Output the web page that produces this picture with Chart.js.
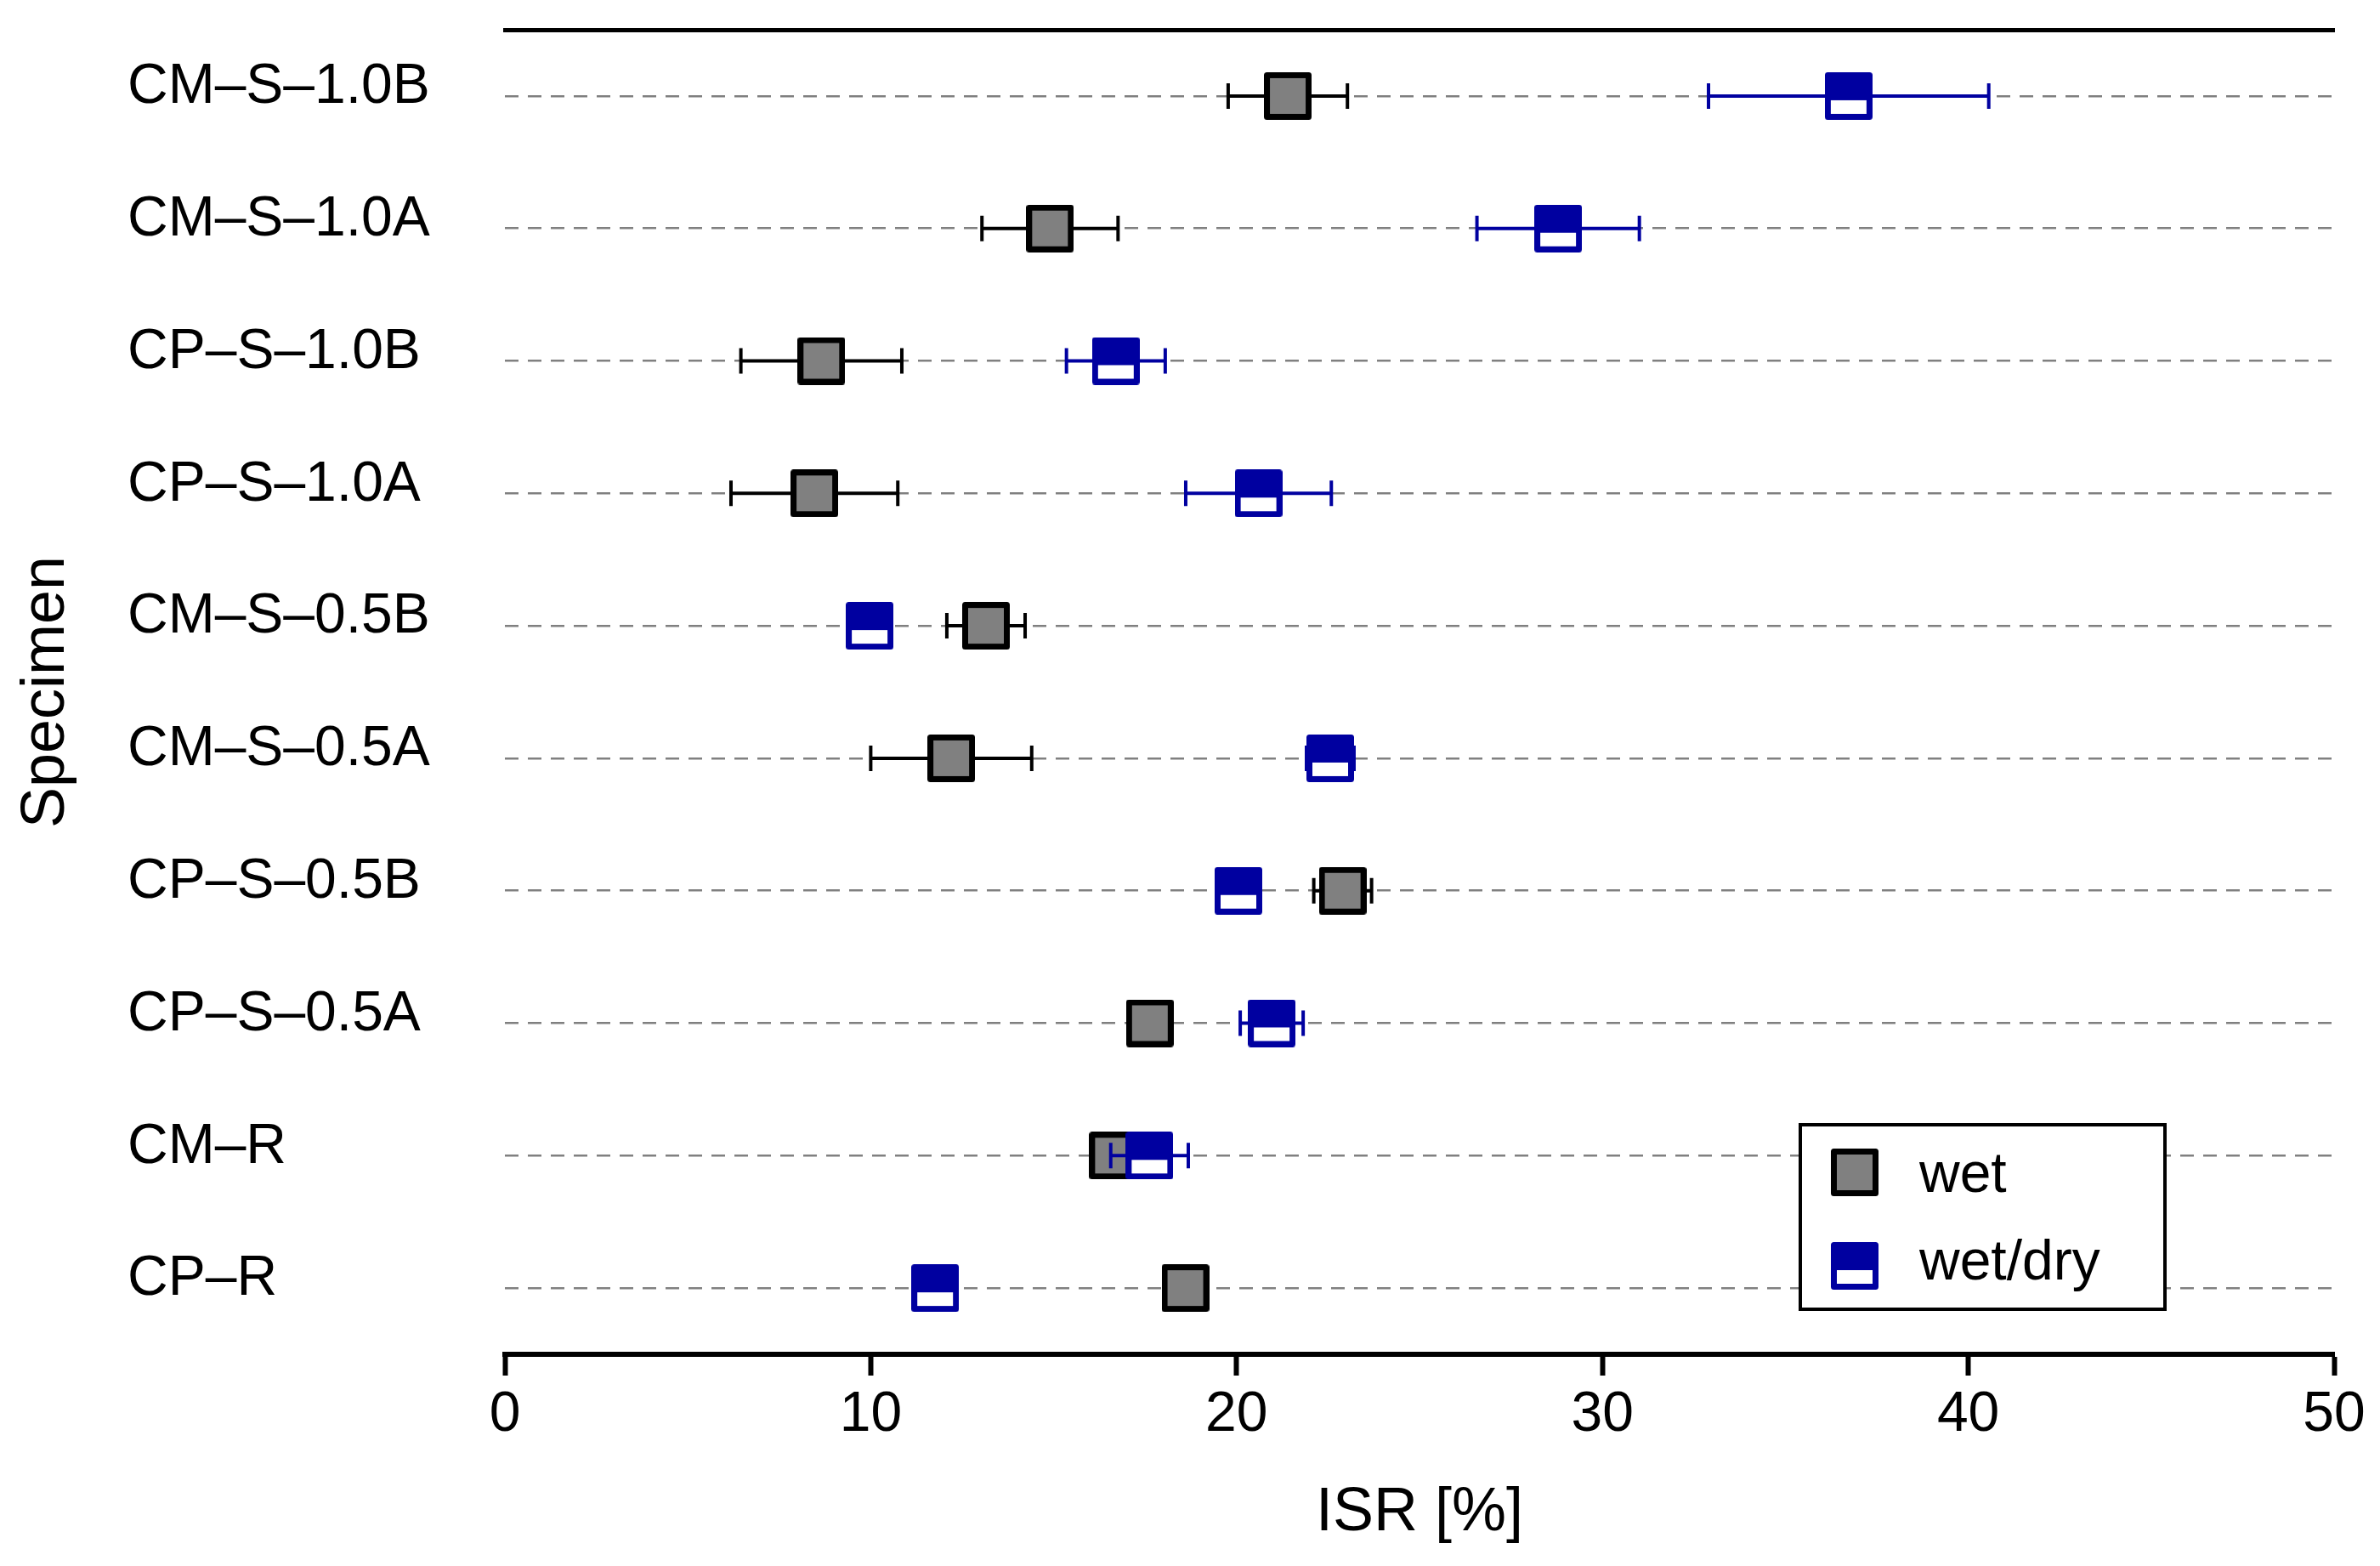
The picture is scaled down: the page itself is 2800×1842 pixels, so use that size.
<!DOCTYPE html>
<html>
<head>
<meta charset="utf-8">
<script src="https://cdn.jsdelivr.net/npm/chart.js@4.4.1/dist/chart.umd.min.js"></script>
<style>
  html, body { margin: 0; padding: 0; background: #fff; }
  #wrap { width: 2800px; height: 1842px; }
</style>
</head>
<body>
<div id="wrap"><canvas id="isrChart"></canvas></div>
<script>
// Specimens, top to bottom
const categories = ["CM–S–1.0B", "CM–S–1.0A", "CP–S–1.0B", "CP–S–1.0A", "CM–S–0.5B",
  "CM–S–0.5A", "CP–S–0.5B", "CP–S–0.5A", "CM–R", "CP–R"];

// ISR [%] mean and +/- error
const wetValues = [21.4, 14.9, 8.65, 8.46, 13.15, 12.2, 22.9, 17.63, 16.62, 18.6];
const wetErrors = [1.63, 1.86, 2.2, 2.28, 1.07, 2.2, 0.79, 0, 0, 0];
const wetDryValues = [36.73, 28.79, 16.7, 20.6, 9.97, 22.56, 20.05, 20.96, 17.62, 11.76];
const wetDryErrors = [3.83, 2.22, 1.35, 1.99, 0, 0.65, 0, 0.86, 1.06, 0];

const xTicks = [0, 10, 20, 30, 40, 50];

const FONT = "'Liberation Sans', Arial, Helvetica, sans-serif";
const GRAY = "#808080";
const BLUE = "#0000a0";

// marker images
const makeMarker = (half) => {
  const c = document.createElement("canvas");
  c.width = 56;
  c.height = 56;
  const g = c.getContext("2d");
  g.lineJoin = "round";
  if (half) {
    g.fillStyle = "#fff";
    g.fillRect(3, 3, 50, 50);
    g.fillStyle = BLUE;
    g.fillRect(1, 1, 54, 32);
    g.strokeStyle = BLUE;
    g.lineWidth = 7;
  } else {
    g.fillStyle = GRAY;
    g.fillRect(3, 3, 50, 50);
    g.strokeStyle = "#000";
    g.lineWidth = 7;
  }
  g.strokeRect(3.5, 3.5, 49, 49);
  return c;
};
const wetMarker = makeMarker(false);
const wetDryMarker = makeMarker(true);

// horizontal error bars, drawn under each dataset's markers
const errorBars = {
  id: "errorBars",
  beforeDatasetDraw(chart, args) {
    const ds = chart.data.datasets[args.index];
    const xs = chart.scales.x;
    const ctx = chart.ctx;
    ctx.save();
    ctx.strokeStyle = ds.errorColor;
    ctx.lineWidth = 4;
    args.meta.data.forEach((pt, i) => {
      const err = ds.errors[i];
      if (!err) return;
      const v = ds.data[i].x;
      const x1 = xs.getPixelForValue(v - err);
      const x2 = xs.getPixelForValue(v + err);
      ctx.beginPath();
      ctx.moveTo(x1, pt.y);
      ctx.lineTo(x2, pt.y);
      ctx.moveTo(x1, pt.y - 15);
      ctx.lineTo(x1, pt.y + 15);
      ctx.moveTo(x2, pt.y - 15);
      ctx.lineTo(x2, pt.y + 15);
      ctx.stroke();
    });
    ctx.restore();
  },
};

// boxed legend in the lower right of the plot
const boxLegend = {
  id: "boxLegend",
  afterDraw(chart) {
    const { ctx, chartArea } = chart;
    const w = 429, h = 217;
    const left = chartArea.right - 199 - w;
    const top = chartArea.bottom - 53 - h;
    ctx.save();
    ctx.fillStyle = "#fff";
    ctx.fillRect(left, top, w, h);
    ctx.strokeStyle = "#000";
    ctx.lineWidth = 4;
    ctx.strokeRect(left, top, w, h);
    ctx.font = "66px " + FONT;
    ctx.fillStyle = "#000";
    ctx.textBaseline = "alphabetic";
    const rows = [[56, 79], [166, 182]];
    chart.data.datasets.forEach((ds, i) => {
      const img = ds.pointStyle;
      ctx.drawImage(img, left + 64 - img.width / 2, top + rows[i][0] - img.height / 2);
      ctx.fillText(ds.label, left + 140, top + rows[i][1]);
    });
    ctx.restore();
  },
};

new Chart(document.getElementById("isrChart"), {
  type: "scatter",
  data: {
    datasets: [
      {
        label: "wet",
        data: wetValues.map((v, i) => ({ x: v, y: i })),
        errors: wetErrors,
        errorColor: "#000",
        pointStyle: wetMarker,
        pointRadius: 28,
        order: 1,
        xAxisID: "x",
        yAxisID: "y",
      },
      {
        label: "wet/dry",
        data: wetDryValues.map((v, i) => ({ x: v, y: i })),
        errors: wetDryErrors,
        errorColor: BLUE,
        pointStyle: wetDryMarker,
        pointRadius: 28,
        order: 0,
        xAxisID: "x",
        yAxisID: "y",
      },
    ],
  },
  options: {
    responsive: true,
    maintainAspectRatio: false,
    animation: false,
    layout: { padding: { left: 0, right: 54, top: 35, bottom: 0 } },
    plugins: {
      legend: { display: false },
      tooltip: { enabled: false },
    },
    scales: {
      x: {
        type: "linear",
        position: "bottom",
        min: 0,
        max: 50,
        afterBuildTicks: (scale) => {
          scale.ticks = xTicks.map((v) => ({ value: v }));
        },
        afterFit: (scale) => {
          scale.height = 249;
        },
        ticks: {
          color: "#000",
          padding: 7,
          font: { family: FONT, size: 66, lineHeight: 1.2 },
        },
        grid: {
          drawOnChartArea: false,
          drawTicks: true,
          tickLength: 25,
          tickWidth: 6,
          tickColor: "#000",
          color: "#000",
        },
        border: { display: true, color: "#000", width: 6 },
        title: {
          display: true,
          text: "ISR [%]",
          color: "#000",
          font: { family: FONT, size: 72, lineHeight: 1.2 },
          padding: { top: 0, bottom: 19 },
        },
      },
      x2: {
        type: "linear",
        axis: "x",
        position: "top",
        min: 0,
        max: 50,
        afterFit: (scale) => {
          scale.height = 0;
        },
        ticks: { display: false },
        grid: { display: false, drawTicks: false },
        border: { display: true, color: "#000", width: 5 },
      },
      y: {
        type: "linear",
        position: "left",
        min: -0.5,
        max: 9.5,
        reverse: true,
        weight: 0,
        afterBuildTicks: (scale) => {
          scale.ticks = categories.map((_, i) => ({ value: i }));
        },
        afterFit: (scale) => {
          scale.width = 444;
          scale.paddingTop = 0;
          scale.paddingBottom = 0;
        },
        ticks: {
          autoSkip: false,
          crossAlign: "far",
          labelOffset: -10,
          color: "#000",
          font: { family: FONT, size: 66, lineHeight: 1.2 },
          callback: (value) => categories[value],
        },
        grid: {
          display: true,
          drawTicks: false,
          color: GRAY,
          lineWidth: 2.5,
        },
        border: { display: false, dash: [16, 11] },
      },
      yt: {
        type: "linear",
        axis: "y",
        position: "left",
        weight: 1,
        afterFit: (scale) => {
          scale.width = 150;
        },
        ticks: { display: false },
        grid: { display: false, drawTicks: false },
        border: { display: false },
        title: {
          display: true,
          text: "Specimen",
          color: "#000",
          font: { family: FONT, size: 72, lineHeight: 1.2 },
          padding: { top: 12, bottom: 0 },
        },
      },
    },
  },
  plugins: [errorBars, boxLegend],
});
</script>
</body>
</html>
